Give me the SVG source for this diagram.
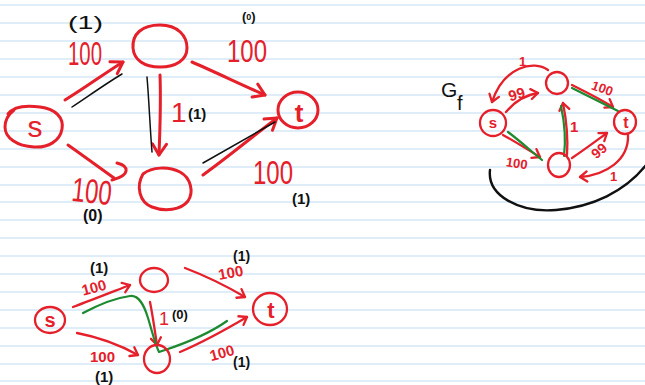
<svg xmlns="http://www.w3.org/2000/svg" width="645" height="385" viewBox="0 0 645 385">
  <defs>
    <style>
      .rule { stroke: #d3e7f5; stroke-width: 1.6; }
      .r { fill: none; stroke: #e5202b; stroke-width: 3; stroke-linecap: round; stroke-linejoin: round; }
      .rs { fill: none; stroke: #e5202b; stroke-width: 2.3; stroke-linecap: round; stroke-linejoin: round; }
      .k { fill: none; stroke: #111; stroke-width: 1.5; stroke-linecap: round; }
      .kb { fill: none; stroke: #111; stroke-width: 2.4; stroke-linecap: round; }
      .g { fill: none; stroke: #1d8a2f; stroke-width: 2.2; stroke-linecap: round; stroke-linejoin: round; }
      .big { marker-end: url(#headL); }
      .sm { marker-end: url(#headS); }
      .lr { fill: #e5202b; font-family: "Liberation Sans", "DejaVu Sans", sans-serif; }
      .lk { fill: #111; font-family: "Liberation Sans", "DejaVu Sans", sans-serif; font-weight: bold; }
      .lk.thin { font-weight: normal; }
    </style>
    <marker id="headL" viewBox="-13 -9 15 18" markerWidth="15" markerHeight="18" markerUnits="userSpaceOnUse" orient="auto" refX="0" refY="0">
      <path d="M-11,-7 L0,0 L-11,7" fill="none" stroke="#e5202b" stroke-width="3" stroke-linecap="round" stroke-linejoin="round"/>
    </marker>
    <marker id="headS" viewBox="-9 -7 11 14" markerWidth="11" markerHeight="14" markerUnits="userSpaceOnUse" orient="auto" refX="0" refY="0">
      <path d="M-7,-5 L0,0 L-7,5" fill="none" stroke="#e5202b" stroke-width="2.3" stroke-linecap="round" stroke-linejoin="round"/>
    </marker>
  </defs>

  <!-- ruled paper -->
  <rect width="645" height="385" fill="#fff"/>
  <g id="paper">
    <line class="rule" x1="0" y1="5" x2="645" y2="5"/>
    <line class="rule" x1="0" y1="23" x2="645" y2="23"/>
    <line class="rule" x1="0" y1="41" x2="645" y2="41"/>
    <line class="rule" x1="0" y1="59" x2="645" y2="59"/>
    <line class="rule" x1="0" y1="77" x2="645" y2="77"/>
    <line class="rule" x1="0" y1="95" x2="645" y2="95"/>
    <line class="rule" x1="0" y1="113" x2="645" y2="113"/>
    <line class="rule" x1="0" y1="131" x2="645" y2="131"/>
    <line class="rule" x1="0" y1="149" x2="645" y2="149"/>
    <line class="rule" x1="0" y1="167" x2="645" y2="167"/>
    <line class="rule" x1="0" y1="185" x2="645" y2="185"/>
    <line class="rule" x1="0" y1="202" x2="645" y2="202"/>
    <line class="rule" x1="0" y1="220" x2="645" y2="220"/>
    <line class="rule" x1="0" y1="238" x2="645" y2="238"/>
    <line class="rule" x1="0" y1="256" x2="645" y2="256"/>
    <line class="rule" x1="0" y1="274" x2="645" y2="274"/>
    <line class="rule" x1="0" y1="292" x2="645" y2="292"/>
    <line class="rule" x1="0" y1="310" x2="645" y2="310"/>
    <line class="rule" x1="0" y1="328" x2="645" y2="328"/>
    <line class="rule" x1="0" y1="346" x2="645" y2="346"/>
    <line class="rule" x1="0" y1="364" x2="645" y2="364"/>
    <line class="rule" x1="0" y1="381" x2="645" y2="381"/>
  </g>

  <!-- ===== network G (top left) ===== -->
  <g id="g1-edges">
    <path class="r big" d="M65,100 C85,88 105,73 123,62"/>
    <path class="k" d="M72,107 C90,95 107,83 122,74"/>
    <path class="r" d="M68,145 C85,157 100,168 114,178"/>
    <path class="r" d="M117,163 C129,166 131,175 112,180"/>
    <path class="r big" d="M160,75 C161,100 160,130 159,155"/>
    <path class="k" d="M147,77 C149,100 150,128 152,152"/>
    <path class="r big" d="M192,62 C215,72 240,84 265,95"/>
    <path class="r big" d="M203,175 C228,157 252,137 277,118"/>
    <path class="k" d="M203,163 C228,149 252,135 275,122"/>
  </g>
  <g id="g1-s">
    <path class="r" d="M8,114 C14,106 26,105 40,107 C56,109 64,118 62,129 C60,141 48,148 34,147 C17,146 5,138 5,127 C5,120 9,114 14,110"/>
    <text class="lr" x="35" y="137" font-size="30" text-anchor="middle">s</text>
  </g>
  <g id="g1-a">
    <path class="r" d="M133,48 C132,34 142,25 160,25 C178,25 187,36 187,48 C187,60 176,67 160,67 C144,67 134,60 133,48 Z"/>
  </g>
  <g id="g1-b">
    <path class="r" d="M143,174 C152,167 168,166 180,172 C191,178 194,192 188,201 C181,210 165,212 152,207 C139,202 136,186 143,174"/>
  </g>
  <g id="g1-t">
    <ellipse class="r" cx="298" cy="110" rx="20" ry="18"/>
    <text class="lr" x="299" y="122" font-size="26" text-anchor="middle" font-weight="bold">t</text>
  </g>
  <g id="g1-labels">
    <text class="lr" x="68" y="65" font-size="34" textLength="34" lengthAdjust="spacingAndGlyphs">100</text>
    <text class="lr" x="227" y="62" font-size="32" textLength="40" lengthAdjust="spacingAndGlyphs">100</text>
    <text class="lr" x="72" y="203" font-size="34" textLength="40" lengthAdjust="spacingAndGlyphs" transform="rotate(6 92 190)">100</text>
    <text class="lr" x="253" y="184" font-size="34" textLength="40" lengthAdjust="spacingAndGlyphs">100</text>
    <text class="lr" x="171" y="122" font-size="28">1</text>
    <text class="lk thin" x="68" y="29" font-size="18" textLength="35" lengthAdjust="spacingAndGlyphs">(1)</text>
    <text class="lk" x="242" y="21" font-size="13">(<tspan font-size="9" dy="-1">0</tspan><tspan dy="1">)</tspan></text>
    <text class="lk" x="188" y="119" font-size="15">(1)</text>
    <text class="lk" x="83" y="221" font-size="16">(0)</text>
    <text class="lk" x="292" y="204" font-size="15">(1)</text>
  </g>

  <!-- ===== residual graph Gf (top right) ===== -->
  <g id="gf-edges">
    <path class="kb" d="M490,170 C487,196 520,213 556,210 C592,207 625,192 647,164"/>
    <path class="rs sm" d="M548,70 C534,60 504,66 492,102"/>
    <path class="rs sm" d="M506,112 C515,101 525,95 538,93"/>
    <path class="rs sm" d="M572,85 C586,92 600,99 613,107"/>
    <path class="g" d="M572,88 C588,96 604,104 618,111"/>
    <path class="rs sm" d="M503,135 C516,142 528,150 540,157"/>
    <path class="g" d="M508,132 C520,141 531,151 542,160"/>
    <path class="rs sm" d="M567,155 C568,140 566,118 563,103"/>
    <path class="g" d="M564,156 C566,140 564,120 561,106"/>
    <path class="rs sm" d="M572,158 C584,150 596,141 607,133"/>
    <path class="rs sm" d="M628,135 C629,160 606,175 580,177"/>
  </g>
  <g id="gf-s">
    <ellipse class="rs" cx="493" cy="123" rx="13" ry="13"/>
    <text class="lr" x="493" y="128" font-size="15" text-anchor="middle" font-weight="bold">s</text>
  </g>
  <g id="gf-a">
    <ellipse class="rs" cx="557" cy="83" rx="11" ry="11"/>
  </g>
  <g id="gf-b">
    <ellipse class="rs" cx="559" cy="165" rx="11" ry="12"/>
  </g>
  <g id="gf-t">
    <ellipse class="rs" cx="625" cy="122" rx="11" ry="12"/>
    <text class="lr" x="626" y="128" font-size="16" text-anchor="middle" font-weight="bold">t</text>
  </g>
  <g id="gf-labels">
    <text class="lk thin" x="441" y="97" font-size="21">G</text>
    <text class="lk thin" x="457" y="110" font-size="20">f</text>
    <text class="lr" x="519" y="66" font-size="13" font-weight="bold">1</text>
    <text class="lr" x="508" y="99" font-size="15" font-weight="bold" transform="rotate(-15 518 93)">99</text>
    <text class="lr" x="592" y="93" font-size="13" font-weight="bold" transform="rotate(20 603 87)">100</text>
    <text class="lr" x="570" y="132" font-size="15" font-weight="bold">1</text>
    <text class="lr" x="506" y="168" font-size="13" font-weight="bold" transform="rotate(8 518 163)">100</text>
    <text class="lr" x="591" y="155" font-size="14" font-weight="bold" transform="rotate(-40 600 150)">99</text>
    <text class="lr" x="610" y="181" font-size="13" font-weight="bold">1</text>
  </g>

  <!-- ===== flow after augmenting (bottom left) ===== -->
  <g id="g2-edges">
    <path class="rs sm" d="M73,307 C92,300 112,292 130,285"/>
    <path class="rs sm" d="M77,333 C98,337 118,344 138,355"/>
    <path class="rs sm" d="M150,302 C153,317 155,332 157,345"/>
    <path class="rs sm" d="M185,268 C206,276 228,287 245,297"/>
    <path class="rs sm" d="M180,352 C201,343 225,330 247,317"/>
    <path class="g" d="M83,313 C100,304 115,298 130,296 C139,295 144,305 148,318 C152,331 155,344 159,352 L165,350 C186,343 210,333 227,321"/>
  </g>
  <g id="g2-s">
    <ellipse class="rs" cx="50" cy="320" rx="15" ry="13"/>
    <text class="lr" x="50" y="327" font-size="20" text-anchor="middle" font-weight="bold">s</text>
  </g>
  <g id="g2-a">
    <ellipse class="rs" cx="154" cy="280" rx="14" ry="12"/>
  </g>
  <g id="g2-b">
    <ellipse class="rs" cx="157" cy="359" rx="13" ry="14"/>
  </g>
  <g id="g2-t">
    <ellipse class="rs" cx="270" cy="309" rx="17" ry="16"/>
    <text class="lr" x="271" y="318" font-size="22" text-anchor="middle" font-weight="bold">t</text>
  </g>
  <g id="g2-labels">
    <text class="lr" x="81" y="293" font-size="15" font-weight="bold" transform="rotate(-15 93 286)">100</text>
    <text class="lr" x="90" y="362" font-size="15" font-weight="bold">100</text>
    <text class="lr" x="159" y="325" font-size="18">1</text>
    <text class="lr" x="218" y="278" font-size="15" font-weight="bold" transform="rotate(-10 230 272)">100</text>
    <text class="lr" x="209" y="358" font-size="15" font-weight="bold" transform="rotate(-15 222 351)">100</text>
    <text class="lk" x="90" y="273" font-size="15">(1)</text>
    <text class="lk" x="95" y="382" font-size="15">(1)</text>
    <text class="lk" x="172" y="319" font-size="13">(0)</text>
    <text class="lk" x="233" y="261" font-size="14">(1)</text>
    <text class="lk" x="233" y="367" font-size="14">(1)</text>
  </g>
</svg>
